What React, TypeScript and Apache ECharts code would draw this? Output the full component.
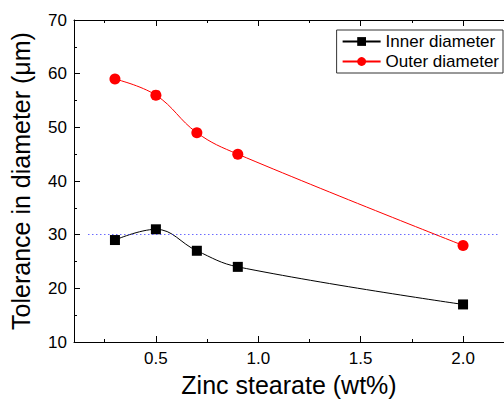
import React, { useEffect, useRef } from "react";
import * as echarts from "echarts";

const xValues = [0.3, 0.5, 0.7, 0.9, 2.0];
const innerDiameter = [29, 31, 27, 24, 17];
const outerDiameter = [59, 56, 49, 45, 28];
const referenceLevel = 30;
const referenceRange = [0.17, 2.18];
const xMajorTicks = [0.5, 1.0, 1.5, 2.0];
const xMinorTicks = [0.25, 0.75, 1.25, 1.75];
const xMin = 0.1;
const xMax = 2.2;
const yMin = 10;
const yMax = 70;
const yInterval = 10;

const FONT = "'Liberation Sans', Arial, sans-serif";

export default function App() {
  const ref = useRef<HTMLDivElement>(null);
  useEffect(() => {
    if (!ref.current) return;
    const chart = echarts.init(ref.current, undefined, { renderer: "svg" });
    const baseX = {
      type: "value" as const,
      min: xMin,
      max: xMax,
      splitLine: { show: false },
    };
    chart.setOption({
      animation: false,
      backgroundColor: "#ffffff",
      grid: { left: 74, top: 20, right: 0, bottom: 59, containLabel: false },
      legend: {
        orient: "vertical",
        right: 1,
        top: 30,
        itemWidth: 38,
        itemHeight: 11,
        itemGap: 3,
        padding: [3, 4, 3, 5],
        borderColor: "#333",
        borderWidth: 1,
        borderRadius: 0,
        textStyle: { fontFamily: FONT, fontSize: 17, color: "#000", padding: [0, 0, 0, 0] },
        data: ["Inner diameter", "Outer diameter"],
      },
      xAxis: [
        {
          ...baseX,
          position: "bottom",
          name: "Zinc stearate (wt%)",
          nameLocation: "middle",
          nameGap: 30,
          nameTextStyle: { fontFamily: FONT, fontSize: 25, color: "#000" },
          axisLine: { show: true, lineStyle: { color: "#000", width: 1 } },
          axisTick: { show: true, inside: true, length: 6, customValues: xMajorTicks, lineStyle: { color: "#000" } },
          axisLabel: {
            show: true,
            customValues: xMajorTicks,
            margin: 8,
            fontFamily: FONT,
            fontSize: 17,
            color: "#000",
            formatter: (v: number) => v.toFixed(1),
          },
        },
        {
          ...baseX,
          position: "bottom",
          axisLine: { show: false },
          axisTick: { show: true, inside: true, length: 3, customValues: xMinorTicks, lineStyle: { color: "#000" } },
          axisLabel: { show: false },
        },
        {
          ...baseX,
          position: "top",
          axisLine: { show: true, lineStyle: { color: "#000", width: 1 } },
          axisTick: { show: true, inside: true, length: 6, customValues: xMajorTicks, lineStyle: { color: "#000" } },
          axisLabel: { show: false },
        },
        {
          ...baseX,
          position: "top",
          axisLine: { show: false },
          axisTick: { show: true, inside: true, length: 3, customValues: xMinorTicks, lineStyle: { color: "#000" } },
          axisLabel: { show: false },
        },
      ],
      yAxis: [
        {
          type: "value",
          min: yMin,
          max: yMax,
          interval: yInterval,
          position: "left",
          name: "Tolerance in diameter (\u03bcm)",
          nameLocation: "middle",
          nameGap: 41,
          nameTextStyle: { fontFamily: FONT, fontSize: 25, color: "#000" },
          splitLine: { show: false },
          axisLine: { show: true, lineStyle: { color: "#000", width: 1 } },
          axisTick: { show: true, inside: true, length: 6, lineStyle: { color: "#000" } },
          minorTick: { show: true, splitNumber: 2, length: 3, lineStyle: { color: "#000" } },
          axisLabel: { margin: 7, fontFamily: FONT, fontSize: 17, color: "#000" },
        },
      ],
      series: [
        {
          name: "Inner diameter",
          type: "line",
          xAxisIndex: 0,
          yAxisIndex: 0,
          data: xValues.map((x, i) => [x, innerDiameter[i]]),
          smooth: 0.4,
          symbol: "rect",
          symbolSize: 10,
          itemStyle: { color: "#000" },
          lineStyle: { color: "#000", width: 1 },
          markLine: {
            silent: true,
            symbol: "none",
            label: { show: false },
            lineStyle: { color: "#2222ff", type: [1, 3], width: 1 },
            data: [[{ coord: [referenceRange[0], referenceLevel] }, { coord: [referenceRange[1], referenceLevel] }]],
          },
          z: 3,
        },
        {
          name: "Outer diameter",
          type: "line",
          xAxisIndex: 0,
          yAxisIndex: 0,
          data: xValues.map((x, i) => [x, outerDiameter[i]]),
          smooth: 0.4,
          symbol: "circle",
          symbolSize: 11,
          itemStyle: { color: "#ff0000" },
          lineStyle: { color: "#ff0000", width: 1 },
          z: 3,
        },
      ],
    });
    return () => chart.dispose();
  }, []);
  return <div ref={ref} style={{ width: 504, height: 402, position: "fixed", left: 0, top: 0 }} />;
}
